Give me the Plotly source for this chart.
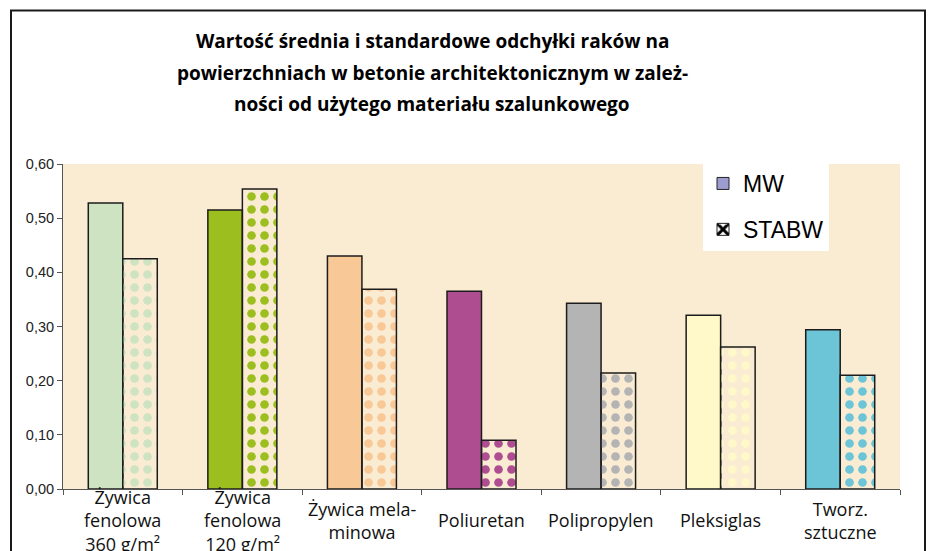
import plotly.graph_objects as go

# ---------------- data ----------------
CATEGORIES = [
    "Żywica<br>fenolowa<br>360 g/m²",
    "Żywica<br>fenolowa<br>120 g/m²",
    "Żywica mela-<br>minowa",
    "Poliuretan",
    "Polipropylen",
    "Pleksiglas",
    "Tworz.<br>sztuczne",
]
MW = [0.528, 0.515, 0.430, 0.365, 0.343, 0.321, 0.294]
STABW = [0.425, 0.554, 0.369, 0.090, 0.214, 0.262, 0.210]
BAR_COLORS = ["#CDE3C1", "#9CBF1F", "#F8C896", "#AE4E91", "#B4B4B4", "#FFF8C8", "#6CC4D7"]
SERIES_NAMES = ["MW", "STABW"]
TITLE_LINES = [
    "Wartość średnia i standardowe odchyłki raków na",
    "powierzchniach w betonie architektonicznym w zależ-",
    "ności od użytego materiału szalunkowego",
]
Y_TICKS = [0.0, 0.1, 0.2, 0.3, 0.4, 0.5, 0.6]

# ---------------- layout constants ----------------
W, H = 930, 551
ML, MR, MT, MB = 63, 30, 164, 62
PW, PH = W - ML - MR, H - MT - MB


def px_x(x):
    return (x - ML) / PW


def px_y(y):
    return (H - MB - y) / PH


fig = go.Figure()

fig.add_trace(go.Bar(
    x=CATEGORIES, y=MW, name=SERIES_NAMES[0], showlegend=False, offsetgroup="mw",
    marker=dict(color=BAR_COLORS, line=dict(color="#1c1c1c", width=1.5)),
))
fig.add_trace(go.Bar(
    x=CATEGORIES, y=STABW, name=SERIES_NAMES[1], showlegend=False, offsetgroup="st",
    marker=dict(
        color=BAR_COLORS,
        line=dict(color="#1c1c1c", width=1.5),
        pattern=dict(shape=".", fillmode="replace", bgcolor="white",
                     fgcolor=BAR_COLORS, size=13, solidity=0.35),
    ),
))
# legend-only entries
fig.add_trace(go.Bar(
    x=[CATEGORIES[0]], y=[None], name=SERIES_NAMES[0], offsetgroup="mw", legendgroup="g1",
    marker=dict(color="#9C9CD0", line=dict(color="#222", width=1)),
))
fig.add_trace(go.Bar(
    x=[CATEGORIES[0]], y=[None], name=SERIES_NAMES[1], offsetgroup="st", legendgroup="g2",
    marker=dict(color="white", line=dict(color="#222", width=1),
                pattern=dict(shape="x", fillmode="replace", bgcolor="white",
                             fgcolor="black", size=12, solidity=0.6)),
))

annotations = []
for i, line in enumerate(TITLE_LINES):
    annotations.append(dict(
        text="<b>" + line + "</b>", xref="paper", yref="paper",
        x=px_x(432), y=px_y(41 + 31.5 * i), xanchor="center", yanchor="middle",
        showarrow=False, font=dict(family="Open Sans", size=19, color="#000"),
    ))
for cat in CATEGORIES:
    annotations.append(dict(
        text=cat, xref="x", yref="paper", x=cat, y=px_y(520),
        xanchor="center", yanchor="middle", showarrow=False,
        font=dict(family="Open Sans", size=18, color="#111"),
    ))

fig.update_layout(
    width=W, height=H,
    margin=dict(l=ML, r=MR, t=MT, b=MB, pad=0),
    paper_bgcolor="white",
    plot_bgcolor="#FAEBD3",
    barmode="group", bargap=0.423, bargroupgap=0,
    separators=",.",
    showlegend=True,
    legend=dict(
        x=px_x(703), y=px_y(162), xanchor="left", yanchor="top",
        bgcolor="white", borderwidth=0, tracegroupgap=13,
        font=dict(family="Liberation Sans", size=23, color="#000"),
    ),
    annotations=annotations,
    shapes=[dict(
        type="rect", xref="paper", yref="paper",
        x0=px_x(11), x1=px_x(925), y0=px_y(580), y1=px_y(10.5),
        line=dict(color="#1a1a1a", width=2), fillcolor="rgba(0,0,0,0)", layer="below",
    )],
    xaxis=dict(
        showline=True, linecolor="#555", linewidth=1,
        ticks="outside", tickson="boundaries", ticklen=5, tickcolor="#555",
        showticklabels=False, showgrid=False, zeroline=False,
    ),
    yaxis=dict(
        range=[0, 0.6], tickvals=Y_TICKS, tickformat=".2f",
        showline=True, linecolor="#555", linewidth=1,
        ticks="outside", ticklen=5, tickcolor="#555",
        showgrid=False, zeroline=False,
        tickfont=dict(family="Liberation Sans", size=14.5, color="#222"),
    ),
)

fig.write_html("out.html", config={"displayModeBar": False},
               post_script="document.body.style.margin='0';")
